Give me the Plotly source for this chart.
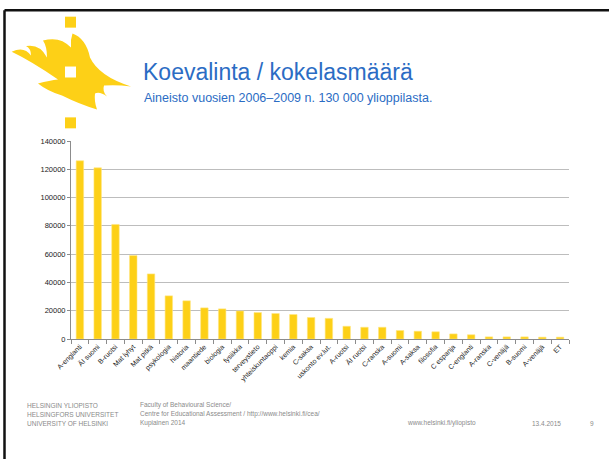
import plotly.graph_objects as go

categories = ["A-englanti", "ÄI suomi", "B-ruotsi", "Mat lyhyt", "Mat pitkä", "psykologia",
              "historia", "maantiede", "biologia", "fysiikka", "terveystieto", "yhteiskuntaoppi",
              "kemia", "C-saksa", "uskonto ev.lut.", "A-ruotsi", "ÄI ruotsi", "C-ranska",
              "A-suomi", "A-saksa", "filosofia", "C espanja", "C-englanti", "A-ranska",
              "C-venäjä", "B-suomi", "A-venäjä", "ET"]
values = [126000, 121000, 81000, 59000, 46000, 30500, 27000, 22000, 21300, 19800, 18700, 18000,
          17300, 15200, 14600, 9000, 8300, 8300, 6000, 5500, 5100, 3600, 3000, 1500,
          1500, 1500, 1300, 1300]
y_ticks = [0, 20000, 40000, 60000, 80000, 100000, 120000, 140000]

W, H = 609, 459
L, R, T, B = 71, 569, 140.7, 339.3


def px(x):
    return (x - L) / (R - L)


def py(y):
    return (B - y) / (B - T)


def P(x, y):
    return f"{px(x):.5f},{py(y):.5f}"


fig = go.Figure(go.Bar(
    x=categories, y=values,
    marker=dict(color="#FDD017", line=dict(color="#FFE680", width=0.6)),
    width=0.42,
))

shapes = []
# slide border
shapes.append(dict(type="line", xref="paper", yref="paper", x0=px(4.5), x1=px(615), y0=py(9.5), y1=py(9.5),
                   line=dict(color="#111111", width=2.5)))
shapes.append(dict(type="line", xref="paper", yref="paper", x0=px(4.5), x1=px(4.5), y0=py(9.5), y1=py(470),
                   line=dict(color="#111111", width=2.5)))

# logo flame (quadratic curve segments: control point, end point)
start = (11.7, 51.3)
segs = [((24, 45), (31, 55)),
        ((31, 48), (26, 45.5)),
        ((40, 43), (47, 57)),
        ((47, 46), (43, 40)),
        ((60, 35), (71, 47)),
        ((70, 40), (72.5, 33)),
        ((86, 38), (90, 57)),
        ((99, 76), (131, 86)),
        ((117, 84), (104, 85)),
        ((102, 91), (107, 96)),
        ((100, 91), (95, 93)),
        ((94, 101), (97, 109)),
        ((80, 104), (62, 95)),
        ((48, 91), (38, 83)),
        ((50, 80), (58, 79)),
        ((30, 60), start)]
path = "M " + P(*start) + " " + " ".join(f"Q {P(*c)} {P(*e)}" for c, e in segs) + " Z"
shapes.append(dict(type="path", xref="paper", yref="paper", path=path,
                   fillcolor="#FDD017", line=dict(width=0)))
for (y0, y1, col) in [(16, 27, "#FDD017"), (66, 77, "#FFFFFF"), (117, 128, "#FDD017")]:
    shapes.append(dict(type="rect", xref="paper", yref="paper", x0=px(65), x1=px(76), y0=py(y1), y1=py(y0),
                       fillcolor=col, line=dict(width=0)))

annotations = [
    dict(text="Koevalinta / kokelasmäärä", x=px(141), y=py(71), xref="paper", yref="paper",
         xanchor="left", yanchor="middle", showarrow=False,
         font=dict(family="Liberation Sans, Arial", size=23, color="#2B6CC4")),
    dict(text="Aineisto vuosien 2006–2009 n. 130 000 ylioppilasta.", x=px(142), y=py(97.5), xref="paper",
         yref="paper", xanchor="left", yanchor="middle", showarrow=False,
         font=dict(family="Liberation Sans, Arial", size=12.5, color="#2B6CC4")),
]
foot_font = dict(family="Liberation Sans, Arial", size=6.5, color="#8A8A8A")
for i, t in enumerate(["HELSINGIN YLIOPISTO", "HELSINGFORS UNIVERSITET", "UNIVERSITY OF HELSINKI"]):
    annotations.append(dict(text=t, x=px(25), y=py(406 + 9 * i), xref="paper", yref="paper",
                            xanchor="left", yanchor="middle", showarrow=False, font=foot_font))
for i, t in enumerate(["Faculty of Behavioural Science/",
                       "Centre for Educational Assessment / http://www.helsinki.fi/cea/",
                       "Kupiainen 2014"]):
    annotations.append(dict(text=t, x=px(138), y=py(406 + 9 * i), xref="paper", yref="paper",
                            xanchor="left", yanchor="middle", showarrow=False, font=foot_font))
for t, x in [("www.helsinki.fi/yliopisto", 405), ("13.4.2015", 530), ("9", 588)]:
    annotations.append(dict(text=t, x=px(x), y=py(424), xref="paper", yref="paper",
                            xanchor="left", yanchor="middle", showarrow=False, font=foot_font))

fig.update_layout(
    width=W, height=H,
    margin=dict(l=L, r=W - R, t=T, b=H - B, autoexpand=False),
    paper_bgcolor="white", plot_bgcolor="white",
    showlegend=False,
    bargap=0.58,
    shapes=shapes,
    annotations=annotations,
    font=dict(family="Liberation Sans, Arial", color="#222222"),
)
fig.update_xaxes(
    type="category", tickangle=-45, tickfont=dict(size=7, color="#222222"),
    showline=True, linecolor="#8C8C8C", linewidth=1,
    ticks="outside", tickson="boundaries", ticklen=4, tickcolor="#8C8C8C",
    showgrid=False,
)
fig.update_yaxes(
    range=[0, 140000], tickvals=y_ticks, ticktext=[str(v) for v in y_ticks],
    tickfont=dict(size=7.5, color="#222222"),
    showline=True, linecolor="#8C8C8C", linewidth=1,
    ticks="outside", ticklen=3, tickcolor="#8C8C8C",
    showgrid=True, gridcolor="#BDBDBD", gridwidth=1, zeroline=False,
)

fig.write_html("out.html", config={"displayModeBar": False},
               post_script="document.body.style.margin='0';document.body.style.overflow='hidden';")
